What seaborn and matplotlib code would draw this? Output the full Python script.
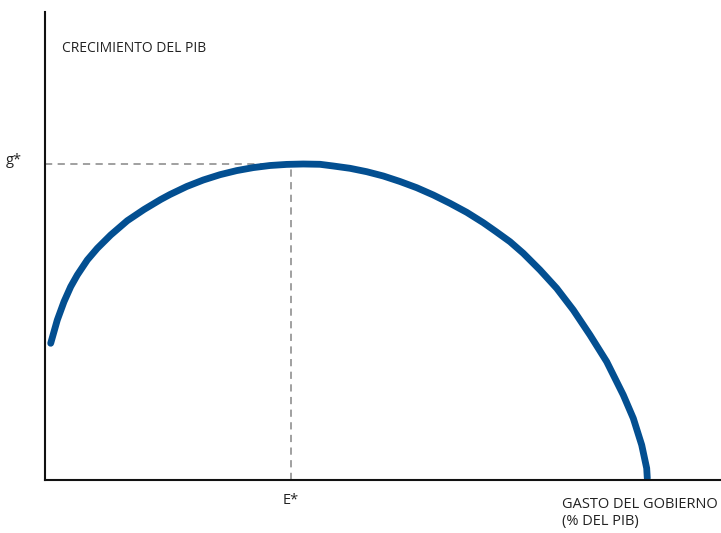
import matplotlib
matplotlib.use("Agg")
import matplotlib.pyplot as plt
import seaborn as sns
import pandas as pd

# Curve (x: government spending, y: GDP growth; arbitrary units)
spending = [5.7, 12.3, 19, 25.7, 32.3, 42.3, 52.3, 65.7, 82.3, 99, 115.7, 125, 141.7, 158.3,
            175, 191.7, 208.3, 225, 241.7, 258.3, 275, 288.3, 305, 321.7, 338.3, 355, 371.7,
            388.3, 405, 421.7, 438.3, 451, 465, 478.3, 495, 511.7, 528.3, 545, 561.7, 578.3,
            588.3, 596.7, 601.7, 602.3]
growth = [136.7, 160, 178.3, 193.3, 205, 220, 231.7, 245, 259.3, 270.5, 280.5, 285.5, 293.5, 300,
          305.3, 309.4, 312.4, 314.5, 315.6, 316, 315.7, 314, 311.7, 308.3, 304, 298.5, 292.3,
          285, 276.7, 267.7, 257.3, 248.4, 238.3, 226.7, 210, 191.7, 170, 145, 118.3, 85,
          61.7, 35, 11.7, 1.7]
e_star = 246
g_star = 316

sns.set_style("white")
plt.rcParams['font.family'] = ['Open Sans', 'DejaVu Sans']

fig = plt.figure(figsize=(7.21, 5.33), dpi=100)
ax = fig.add_axes([45/721, 53/533, 676/721, 468/533])

df = pd.DataFrame({"x": spending, "y": growth})
sns.lineplot(data=df, x="x", y="y", sort=False, estimator=None, ax=ax,
             color="#034f91", linewidth=4.9, solid_capstyle="round", solid_joinstyle="round")

ax.plot([0, e_star], [g_star, g_star], ls=(0, (4, 3)), color="#999999", lw=1.3, zorder=1)
ax.plot([e_star, e_star], [0, g_star], ls=(0, (4, 3)), color="#999999", lw=1.3, zorder=1)

ax.set_xlim(0, 676)
ax.set_ylim(0, 468)
ax.set_xticks([])
ax.set_yticks([])
ax.set_xlabel("")
ax.set_ylabel("")
for s in ["top", "right"]:
    ax.spines[s].set_visible(False)
for s in ["left", "bottom"]:
    ax.spines[s].set_color("#111111")
    ax.spines[s].set_linewidth(1.5)

tc = "#222222"
fig.text(62/721, 1 - 48/533, "CRECIMIENTO DEL PIB", fontsize=10, color=tc, va="center", ha="left")
fig.text(14/721, 1 - 160/533, "g*", fontsize=10.5, color=tc, va="center", ha="center")
fig.text(291/721, 1 - 500/533, "E*", fontsize=10.5, color=tc, va="center", ha="center")
fig.text(562/721, 1 - 505/533, "GASTO DEL GOBIERNO", fontsize=10.5, color=tc, va="center", ha="left")
fig.text(562/721, 1 - 522/533, "(% DEL PIB)", fontsize=10.5, color=tc, va="center", ha="left")

fig.savefig("out.png", dpi=100)
